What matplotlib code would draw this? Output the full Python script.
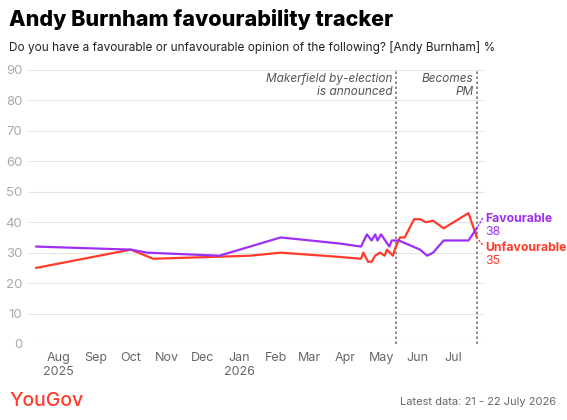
import matplotlib
matplotlib.use("Agg")
import matplotlib.pyplot as plt
import pandas as pd

fav_dates = ["2025-07-13","2025-10-01","2025-10-15","2025-12-15","2026-02-05","2026-03-27","2026-04-14",
             "2026-04-19","2026-04-23","2026-04-26","2026-04-28","2026-05-01","2026-05-08","2026-05-10",
             "2026-05-14","2026-05-16","2026-06-03","2026-06-09","2026-06-14","2026-06-23","2026-07-14","2026-07-21"]
fav_vals = [32,31,30,29,35,33,32,36,34,36,34,36,32,34,34,34,31,29,30,34,34,38]
unf_dates = ["2025-07-13","2025-10-01","2025-10-20","2026-01-10","2026-02-05","2026-03-27","2026-04-14",
             "2026-04-16","2026-04-20","2026-04-23","2026-04-26","2026-04-30","2026-05-04","2026-05-06",
             "2026-05-11","2026-05-13","2026-05-17","2026-05-21","2026-05-29","2026-06-03","2026-06-08",
             "2026-06-14","2026-06-23","2026-07-14","2026-07-18","2026-07-21"]
unf_vals = [25,31,28,29,30,28.6,28,30,27,27,29,30,29,31,29,31.5,35,35,41,41,40,40.5,38,43,38.5,35]
events = [("2026-05-14","Makerfield by-election\nis announced"),("2026-07-21","Becomes\nPM")]
month_ticks = ["2025-08-01","2025-09-01","2025-10-01","2025-11-01","2025-12-01","2026-01-01",
               "2026-02-01","2026-03-01","2026-04-01","2026-05-01","2026-06-01","2026-07-01"]
month_labels = ["Aug\n2025","Sep","Oct","Nov","Dec","Jan\n2026","Feb","Mar","Apr","May","Jun","Jul"]

PURPLE = "#9d2ff5"; RED = "#ff3b2b"
plt.rcParams['font.family'] = ['Inter', 'DejaVu Sans']

fig = plt.figure(figsize=(5.67, 4.2), dpi=100)
ax = fig.add_axes([28/567, 76/420, 457/567, 274/420])
fd = pd.to_datetime(fav_dates); ud = pd.to_datetime(unf_dates)
ax.plot(ud, unf_vals, color=RED, lw=1.6, zorder=3)
ax.plot(fd, fav_vals, color=PURPLE, lw=1.6, zorder=4)
ax.set_xlim(pd.Timestamp("2025-07-06"), pd.Timestamp("2026-07-28"))
ax.set_ylim(0, 90)
ax.set_yticks(range(0, 91, 10))
ax.yaxis.grid(True, color="#e6e6e6", lw=0.8)
ax.set_axisbelow(True)
for s in ax.spines.values(): s.set_visible(False)
ax.tick_params(axis='y', length=0, labelcolor="#aaaaaa", labelsize=9.5, pad=4)
ax.set_xticks(pd.to_datetime(month_ticks))
ax.set_xticklabels(month_labels, color="#666666", fontsize=9)
ax.tick_params(axis='x', length=0, pad=6)

for d, t in events:
    x = pd.Timestamp(d)
    ax.axvline(x, color="#777777", ls=(0, (1.5, 1.5)), lw=1.2, zorder=2)
    ax.text(x - pd.Timedelta(days=3), 89, t, ha='right', va='top', style='italic',
            color="#555555", fontsize=8.5, linespacing=1.1)

ax.annotate("", xy=(fd[-1], fav_vals[-1]), xytext=(pd.Timestamp("2026-07-27"), 42),
            arrowprops=dict(arrowstyle='-', color=PURPLE, ls=':', lw=1), annotation_clip=False)
ax.annotate("", xy=(ud[-1], unf_vals[-1]), xytext=(pd.Timestamp("2026-07-27"), 32),
            arrowprops=dict(arrowstyle='-', color=RED, ls=':', lw=1), annotation_clip=False)
fig.text(485/567, 1-219/420, "Favourable", color=PURPLE, fontweight='bold', fontsize=8.8, va='center')
fig.text(485/567, 1-232/420, "38", color=PURPLE, fontsize=8.8, va='center')
fig.text(485/567, 1-248/420, "Unfavourable", color=RED, fontweight='bold', fontsize=8.8, va='center')
fig.text(485/567, 1-261/420, "35", color=RED, fontsize=8.8, va='center')

fig.text(9/567, 1-19/420, "Andy Burnham favourability tracker", fontsize=15.5, fontweight='heavy', va='center')
fig.text(9/567, 1-47/420, "Do you have a favourable or unfavourable opinion of the following? [Andy Burnham] %",
         fontsize=8.5, va='center', color="#222222")
fig.text(9/567, 1-401/420, "YouGov", fontsize=14, color=RED, va='center', fontweight='medium')
fig.text(556/567, 1-402/420, "Latest data: 21 - 22 July 2026", fontsize=8, color="#666666", ha='right', va='center')
fig.savefig("out.png", dpi=100)
